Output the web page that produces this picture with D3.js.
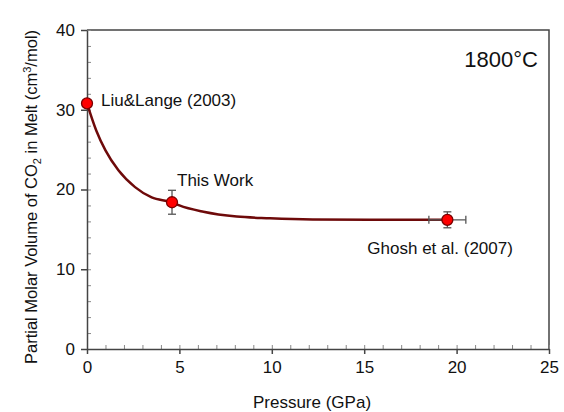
<!DOCTYPE html>
<html>
<head>
<meta charset="utf-8">
<script src="https://cdn.jsdelivr.net/npm/d3@7"></script>
<style>
  body { margin: 0; background: #fff; }
  svg { font-family: "Liberation Sans", Arial, sans-serif; }
</style>
</head>
<body>
<div class="container"></div>
<script>
// data
var points = [
    { name: 'Liu&Lange (2003)', p: 0, v: 30.8, xerr: 0, yerr: 0 },
    { name: 'This Work', p: 4.6, v: 18.4, xerr: 0, yerr: 1.5 },
    { name: 'Ghosh et al. (2007)', p: 19.5, v: 16.2, xerr: 1.0, yerr: 1.0 }
];
var curveP = [0, 0.5, 1, 1.7, 2.6, 3.5, 4.6, 5, 6.3, 8.1, 9.9, 12.2, 15.3, 19.5];
var curveV = [30.8, 27.4, 24.9, 22.4, 20.3, 19.0, 18.4, 18.0, 17.2, 16.6, 16.4, 16.25, 16.2, 16.2];
var xTicks = [0, 5, 10, 15, 20, 25];
var yTicks = [0, 10, 20, 30, 40];
var xMinor = d3.range(0, 26, 1);
var yMinor = d3.range(0, 41, 2);

var drawChart = function () {
    const WIDTH = 564;
    const HEIGHT = 412;
    var margin = { top: 30, right: 15, bottom: 63, left: 87 };
    var w = WIDTH - margin.left - margin.right;
    var h = HEIGHT - margin.top - margin.bottom;
    var axisColor = '#444';

    var svg = d3.select('.container')
        .append('svg')
        .attr('width', WIDTH)
        .attr('height', HEIGHT);

    var g = svg.append('g')
        .attr('transform', 'translate(' + margin.left + ',' + margin.top + ')');

    var x = d3.scaleLinear().domain([0, 25]).range([0, w]);
    var y = d3.scaleLinear().domain([0, 40]).range([h, 0]);

    // top and right frame
    g.append('path')
        .attr('d', 'M0,0H' + w + 'V' + h)
        .style('fill', 'none')
        .style('stroke', axisColor)
        .style('stroke-width', 1.5);

    // minor ticks, pointing inside
    g.append('g')
        .attr('transform', 'translate(0,' + h + ')')
        .call(d3.axisTop(x).tickValues(xMinor).tickSize(4).tickFormat(''))
        .call(s => s.select('.domain').remove())
        .selectAll('line').style('stroke', '#888');
    g.append('g')
        .call(d3.axisRight(y).tickValues(yMinor).tickSize(4).tickFormat(''))
        .call(s => s.select('.domain').remove())
        .selectAll('line').style('stroke', '#888');

    // major axes
    var xAxis = g.append('g')
        .attr('transform', 'translate(0,' + h + ')')
        .call(d3.axisBottom(x).tickValues(xTicks).tickSize(5).tickSizeOuter(0).tickPadding(7));
    var yAxis = g.append('g')
        .call(d3.axisLeft(y).tickValues(yTicks).tickSize(6).tickSizeOuter(0).tickPadding(6));

    [xAxis, yAxis].forEach(function (a) {
        a.select('.domain').style('stroke', axisColor).style('stroke-width', 1.5);
        a.selectAll('line').style('stroke', axisColor).style('stroke-width', 1.5);
        a.selectAll('text')
            .style('font-family', '"Liberation Sans", Arial, sans-serif')
            .style('font-size', '17px')
            .style('fill', '#111');
    });

    // fitted curve
    var line = d3.line()
        .x(function (d, i) { return x(curveP[i]); })
        .y(function (d) { return y(d); })
        .curve(d3.curveMonotoneX);
    g.append('path')
        .datum(curveV)
        .attr('d', line)
        .style('fill', 'none')
        .style('stroke', '#6e0a0a')
        .style('stroke-width', 2.5);

    // error bars
    var eb = g.append('g').style('stroke', '#555').style('stroke-width', 1.3);
    points.forEach(function (d) {
        if (d.yerr) {
            eb.append('line')
                .attr('x1', x(d.p)).attr('x2', x(d.p))
                .attr('y1', y(d.v - d.yerr)).attr('y2', y(d.v + d.yerr));
            [d.v - d.yerr, d.v + d.yerr].forEach(function (v) {
                eb.append('line')
                    .attr('x1', x(d.p) - 4).attr('x2', x(d.p) + 4)
                    .attr('y1', y(v)).attr('y2', y(v));
            });
        }
        if (d.xerr) {
            eb.append('line')
                .attr('x1', x(d.p - d.xerr)).attr('x2', x(d.p + d.xerr))
                .attr('y1', y(d.v)).attr('y2', y(d.v));
            [d.p - d.xerr, d.p + d.xerr].forEach(function (p) {
                eb.append('line')
                    .attr('x1', x(p)).attr('x2', x(p))
                    .attr('y1', y(d.v) - 4).attr('y2', y(d.v) + 4);
            });
        }
    });

    // markers
    g.selectAll('circle.pt')
        .data(points)
        .enter()
        .append('circle')
        .attr('class', 'pt')
        .attr('cx', function (d) { return x(d.p); })
        .attr('cy', function (d) { return y(d.v); })
        .attr('r', 5.5)
        .style('fill', '#ff0000')
        .style('stroke', '#7a0000')
        .style('stroke-width', 1.3);

    // point labels
    var labelOffsets = [[14, 3], [5, -16], [-80, 34]];
    g.selectAll('text.lbl')
        .data(points)
        .enter()
        .append('text')
        .attr('class', 'lbl')
        .attr('x', function (d, i) { return x(d.p) + labelOffsets[i][0]; })
        .attr('y', function (d, i) { return y(d.v) + labelOffsets[i][1]; })
        .style('font-size', '17px')
        .style('fill', '#111')
        .text(function (d) { return d.name; });

    g.append('text')
        .attr('x', w - 11)
        .attr('y', 37)
        .attr('text-anchor', 'end')
        .style('font-size', '22px')
        .style('fill', '#111')
        .text('1800°C');

    // axis titles
    svg.append('text')
        .attr('x', margin.left + w / 2 - 6)
        .attr('y', 408)
        .attr('text-anchor', 'middle')
        .style('font-size', '17px')
        .style('fill', '#111')
        .text('Pressure (GPa)');

    var yt = svg.append('text')
        .attr('transform', 'translate(37,197) rotate(-90)')
        .attr('text-anchor', 'middle')
        .style('font-size', '16.5px')
        .style('fill', '#111');
    yt.append('tspan').text('Partial Molar Volume of CO');
    yt.append('tspan').attr('dy', 4).style('font-size', '11px').text('2');
    yt.append('tspan').attr('dy', -4).text(' in Melt (cm');
    yt.append('tspan').attr('dy', -6).style('font-size', '11px').text('3');
    yt.append('tspan').attr('dy', 6).text('/mol)');
};
window.onload = drawChart;
</script>
</body>
</html>
